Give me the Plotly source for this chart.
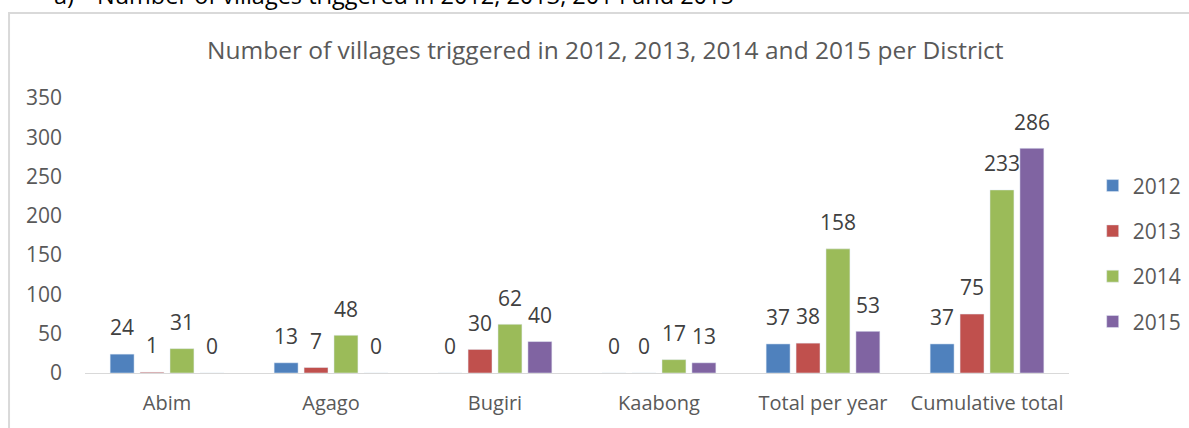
import plotly.graph_objects as go

# data
districts = ["Abim", "Agago", "Bugiri", "Kaabong", "Total per year", "Cumulative total"]
years = ["2012", "2013", "2014", "2015"]
v2012 = [24, 13, 0, 0, 37, 37]
v2013 = [1, 7, 30, 0, 38, 75]
v2014 = [31, 48, 62, 17, 158, 233]
v2015 = [0, 0, 40, 13, 53, 286]
y_ticks = [0, 50, 100, 150, 200, 250, 300, 350]

series = [v2012, v2013, v2014, v2015]
colors = ["#4F81BD", "#C0504D", "#9BBB59", "#8064A2"]
font = "Open Sans"

fig = go.Figure()
for yr, vals, col in zip(years, series, colors):
    fig.add_trace(go.Bar(
        x=districts, y=vals, name=yr, marker_color=col,
        offsetgroup=yr, legendgroup=yr,
    ))
# value labels (transparent markers so the text sits above the bar)
for yr, vals in zip(years, series):
    fig.add_trace(go.Scatter(
        x=districts, y=vals, mode="markers+text", text=[str(v) for v in vals],
        textposition="top center", orientation="v", offsetgroup=yr,
        marker=dict(size=20, opacity=0), showlegend=False, hoverinfo="skip",
        textfont=dict(family=font, size=21, color="#404040"), cliponaxis=False,
    ))

fig.update_layout(
    width=1189, height=428,
    margin=dict(l=85, r=120, t=98, b=52),
    paper_bgcolor="white", plot_bgcolor="white",
    barmode="group", bargap=0.27, bargroupgap=0.2,
    scattermode="group", scattergap=0.27,
    font=dict(family=font, size=21, color="#595959"),
    showlegend=True,
    legend=dict(
        xref="container", x=0.919, xanchor="left", y=0.433, yanchor="middle",
        font=dict(family=font, size=21, color="#595959"),
        tracegroupgap=15, traceorder="grouped",
    ),
    annotations=[
        dict(text="Number of villages triggered in 2012, 2013, 2014 and 2015 per District",
             xref="paper", yref="paper", x=0.529, y=1.178, xanchor="center", yanchor="middle",
             showarrow=False, font=dict(family=font, size=24.5, color="#595959")),
        dict(text="a)", xref="paper", yref="paper", x=-0.034, y=1.375,
             xanchor="left", yanchor="middle", showarrow=False,
             font=dict(family=font, size=23.5, color="black")),
        dict(text="Number of villages triggered in 2012, 2013, 2014 and 2015",
             xref="paper", yref="paper", x=0.0102, y=1.375,
             xanchor="left", yanchor="middle", showarrow=False,
             font=dict(family=font, size=23.5, color="black")),
    ],
    shapes=[
        dict(type="rect", xref="paper", yref="paper", x0=-0.0772, y0=-0.3, x1=1.2, y1=1.309,
             line=dict(color="#D9D9D9", width=2), fillcolor="rgba(0,0,0,0)", layer="below"),
    ],
)
fig.update_xaxes(
    showline=True, linecolor="#D9D9D9", linewidth=1, showgrid=False,
    ticks="", ticklabelstandoff=12, tickfont=dict(family=font, size=20, color="#595959"),
)
fig.update_yaxes(
    range=[0, 350], tickvals=y_ticks, showgrid=False, zeroline=False, showline=False,
    ticks="", ticklabelstandoff=22, tickfont=dict(family=font, size=21, color="#595959"),
)

fig.write_html("out.html", config={"displayModeBar": False},
               post_script="document.body.style.margin='0px';")
